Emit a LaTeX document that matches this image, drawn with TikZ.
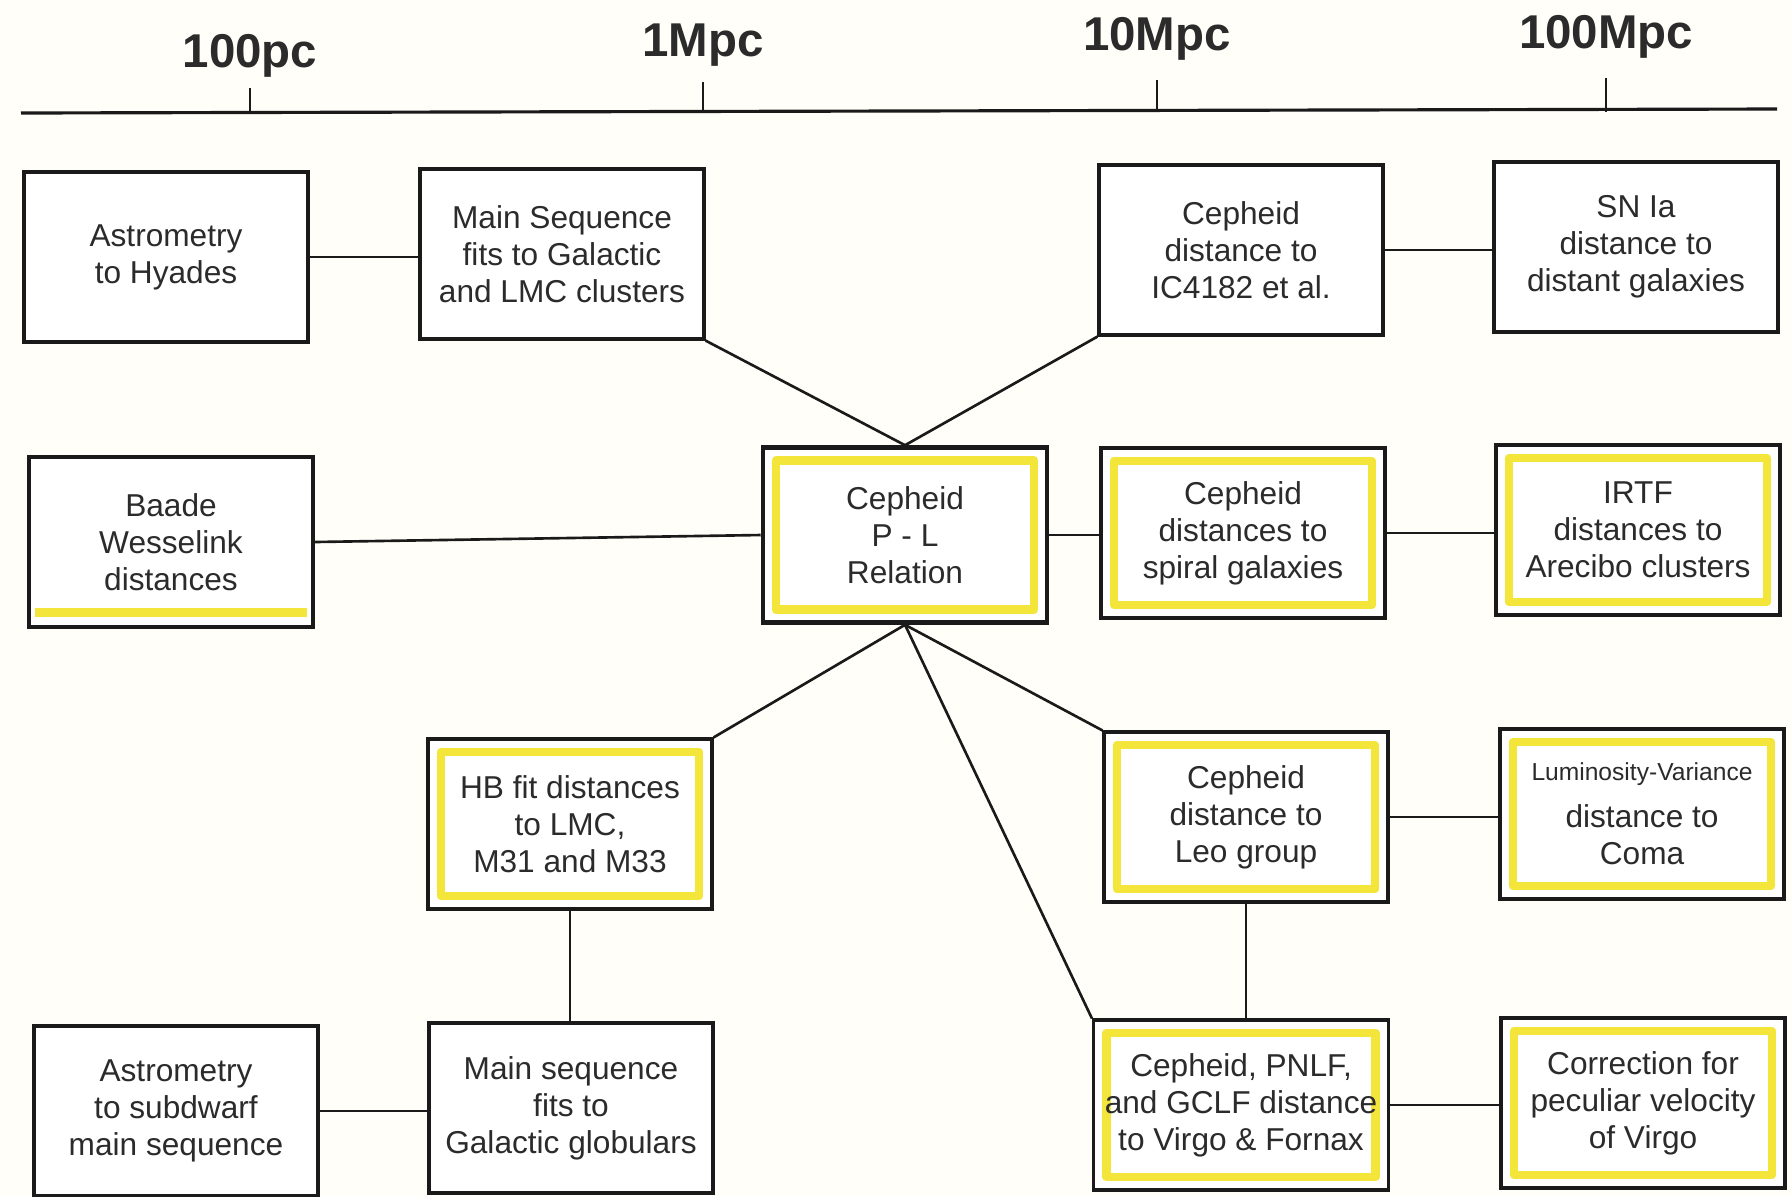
\documentclass[tikz,border=0pt]{standalone}
\usepackage{fontspec}
\setmainfont{Liberation Sans}
\usetikzlibrary{positioning}
\definecolor{dlink}{HTML}{1A1A1A}
\definecolor{dtext}{HTML}{2B2B2B}
\definecolor{dhigh}{HTML}{F3E53A}
\definecolor{dpaper}{HTML}{FFFEF8}
\tikzset{
  box/.style={draw=dlink, line width=0.9pt, fill=white, align=center, text=dtext,
    font=\fontsize{9}{10.5}\selectfont, minimum width=28.4mm, minimum height=17mm, inner sep=0pt},
  hl/.style={box, path picture={\draw[dhigh, line width=0.85mm, line join=round]
    ([shift={(1.3mm,-1.3mm)}]path picture bounding box.north west) rectangle
    ([shift={(-1.3mm,1.3mm)}]path picture bounding box.south east);}},
  hlbottom/.style={box, path picture={\draw[dhigh, line width=0.9mm]
    ([shift={(0.6mm,1.5mm)}]path picture bounding box.south west) --
    ([shift={(-0.6mm,1.5mm)}]path picture bounding box.south east);}},
  heavy/.style={line width=1.3pt},
  scl/.style={font=\fontsize{13.5}{15}\selectfont\bfseries, text=dtext, inner sep=0pt},
  wire/.style={draw=dlink, line width=0.75pt},
}
\begin{document}
\begin{tikzpicture}[x=0.1mm,y=-0.1mm]
\useasboundingbox[fill=dpaper] (0,0) rectangle (1792,1196);
% distance scale
\draw[wire, line width=0.9pt] (21,113) -- (1777,109);
\foreach \x/\yt/\yl/\lab/\n in {250/88/56/100pc/s100pc, 703/82/45/1Mpc/s1mpc,
    1157/80/39/10Mpc/s10mpc, 1606/78/37/100Mpc/s100mpc}
  { \draw[wire] (\x,\yt) -- (\x,112);
    \node[scl] (\n) at (\x,\yl) {\lab}; }

% top row
\node[box] (hyades) at (166,257) {Astrometry\\to Hyades};
\node[box] (msclust) at (562,254) {Main Sequence\\fits to Galactic\\and LMC clusters};
\node[box] (ic4182) at (1241,250) {Cepheid\\distance to\\IC4182 et al.};
\node[box] (snia) at (1636,247) {SN Ia\\distance to\\distant galaxies};

% middle row
\node[hlbottom] (baade) at (171,542) {Baade\\Wesselink\\distances};
\node[hl, heavy, minimum height=17.5mm] (pl) at (905,535) {Cepheid\\P - L\\Relation};
\node[hl, heavy] (spiral) at (1243,533) {Cepheid\\distances to\\spiral galaxies};
\node[hl] (irtf) at (1638,530) {IRTF\\distances to\\Arecibo clusters};

% lower rows
\node[hl] (hb) at (570,824) {HB fit distances\\to LMC,\\M31 and M33};
\node[hl] (leo) at (1246,817) {Cepheid\\distance to\\Leo group};
\node[hl] (coma) at (1642,814) {{\fontsize{7}{7}\selectfont Luminosity-Variance}\\[1mm]distance to\\Coma};
\node[box] (subdw) at (176,1111) {Astrometry\\to subdwarf\\main sequence};
\node[box] (globs) at (571,1108) {Main sequence\\fits to\\Galactic globulars};
\node[hl, minimum width=29.5mm] (virgo) at (1241,1105) {Cepheid, PNLF,\\and GCLF distance\\to Virgo \& Fornax};
\node[hl] (pecvel) at (1643,1103) {Correction for\\peculiar velocity\\of Virgo};

% connectors
\draw[wire] (hyades.east) -- (hyades.east -| msclust.west);
\draw[wire] (ic4182.east) -- (ic4182.east -| snia.west);
\draw[wire] (msclust.south east) -- (pl.north);
\draw[wire] (ic4182.south west) -- (pl.north);
\draw[wire] (baade.east) -- (pl.west);
\draw[wire] (pl.east) -- (pl.east -| spiral.west);
\draw[wire] (spiral.east) -- (spiral.east -| irtf.west);
\draw[wire] (pl.south) -- (hb.north east);
\draw[wire] (pl.south) -- (leo.north west);
\draw[wire] (pl.south) -- (virgo.north west);
\draw[wire] (hb.south) -- (hb.south |- globs.north);
\draw[wire] (leo.south) -- (leo.south |- virgo.north);
\draw[wire] (leo.east) -- (leo.east -| coma.west);
\draw[wire] (subdw.east) -- (subdw.east -| globs.west);
\draw[wire] (virgo.east) -- (virgo.east -| pecvel.west);
\end{tikzpicture}
\end{document}
